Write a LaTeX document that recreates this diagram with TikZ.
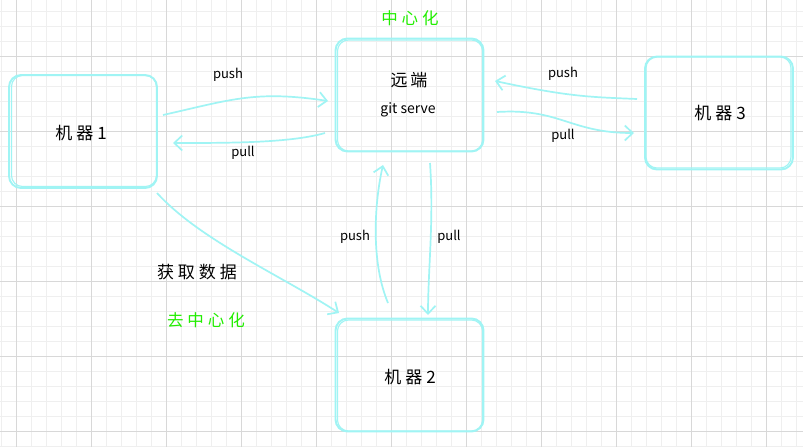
\documentclass[tikz,border=0pt]{standalone}
\usepackage{fontspec}
\setmainfont{Noto Sans CJK SC}
\usetikzlibrary{arrows.meta}
\definecolor{sk}{HTML}{A0F4F4}
\definecolor{gmaj}{HTML}{D8D8D8}
\definecolor{gmin}{HTML}{EFEFEF}
\definecolor{grn}{HTML}{22EE00}
\newcommand{\cgap}{\hspace{4pt}}
\tikzset{
  boxshape/.style={draw=sk, line width=1.9pt, rounded corners=12pt, minimum width=148pt, minimum height=113pt, inner sep=0pt},
  boxghost/.style={draw=sk, line width=1.1pt, rounded corners=11pt, minimum width=145pt, minimum height=111pt, inner sep=0pt},
  cn/.style={font=\fontsize{17pt}{19pt}\selectfont, text=black},
  lat/.style={font=\fontsize{13pt}{15pt}\selectfont, text=black},
  latb/.style={font=\fontsize{14pt}{16pt}\selectfont, text=black},
  gtxt/.style={font=\fontsize{16.5pt}{19pt}\selectfont, text=grn},
  conn/.style={draw=sk, line width=1.7pt, -{Straight Barb[length=8pt,width=15pt,line width=1.7pt]}},
}
\begin{document}
\begin{tikzpicture}[x=1pt,y=-1pt]
\useasboundingbox (0,0) rectangle (803,447);
\fill[white] (0,0) rectangle (803,447);
% minor grid
\foreach \i in {0,...,53} {\draw[gmin, line width=0.8pt] (1+15*\i,0) -- (1+15*\i,447);}
\foreach \j in {0,...,29} {\draw[gmin, line width=0.8pt] (0,11.7+15*\j) -- (803,11.7+15*\j);}
% major grid
\foreach \i in {0,...,10} {\draw[gmaj, line width=1pt] (16+75*\i,0) -- (16+75*\i,447);}
\foreach \j in {0,...,5} {\draw[gmaj, line width=1pt] (0,56.7+75*\j) -- (803,56.7+75*\j);}

% boxes
\node[boxshape] (m1) at (83,131.5) {};
\node[boxghost] at (84,131) {};
\node[boxshape] (rem) at (409.5,95) {};
\node[boxghost] at (410,95.5) {};
\node[boxshape] (m3) at (719,113) {};
\node[boxghost] at (718.5,112.5) {};
\node[boxshape] (m2) at (409.5,375) {};
\node[boxghost] at (410,375.5) {};

% texts
\node[cn] (t1) at (81,133) {机\cgap 器\cgap 1};
\node[cn] (t3) at (720,113) {机\cgap 器\cgap 3};
\node[cn] (t2) at (410,377) {机\cgap 器\cgap 2};
\node[cn] (tr) at (409,80) {远\hspace{3pt}端};
\node[latb] (tg) at (408,110) {git serve};
\node[gtxt] (cz) at (410,18) {中\cgap 心\cgap 化};
\node[gtxt] (qz) at (206,320) {去\cgap 中\cgap 心\cgap 化};
\node[cn] (hq) at (197,272) {获\cgap 取\cgap 数\cgap 据};

% connector anchors
\coordinate (a1s) at (163,115);
\coordinate (a1e) at (328,101);
\coordinate (a2s) at (325,133);
\coordinate (a2e) at (173,143);
\coordinate (a3s) at (637,99);
\coordinate (a3e) at (495,81);
\coordinate (a4s) at (497,112);
\coordinate (a4e) at (634,133);
\coordinate (a5s) at (388,303);
\coordinate (a5e) at (383,165);
\coordinate (a6s) at (430,163);
\coordinate (a6e) at (428,315);
\coordinate (a7s) at (157,193);
\coordinate (a7e) at (339,313);

\draw[conn] (a1s) .. controls (230,100) and (255,90) .. (a1e);
\draw[conn] (a2s) .. controls (290,143) and (230,143) .. (a2e);
\draw[conn] (a3s) .. controls (590,97) and (570,97) .. (a3e);
\draw[conn] (a4s) .. controls (560,108) and (570,133) .. (a4e);
\draw[conn] (a5s) .. controls (370,260) and (375,200) .. (a5e);
\draw[conn] (a6s) .. controls (434,220) and (428,270) .. (a6e);
\draw[conn] (a7s) .. controls (200,240) and (280,275) .. (a7e);

% connector labels
\node[lat] (l1) at (228,75) {push};
\node[lat] (l2) at (243,153) {pull};
\node[lat] (l3) at (563,74) {push};
\node[lat] (l4) at (563,136) {pull};
\node[lat] (l5) at (355,237) {push};
\node[lat] (l6) at (449,237) {pull};
\end{tikzpicture}
\end{document}
